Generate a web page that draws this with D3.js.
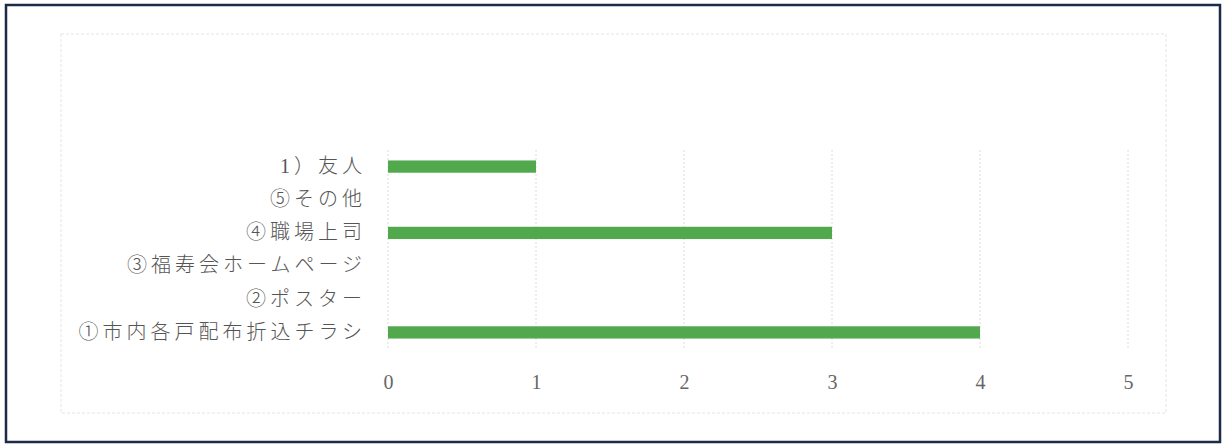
<!DOCTYPE html>
<html>
<head>
<meta charset="utf-8">
<script src="https://cdn.jsdelivr.net/npm/d3@7"></script>
<style>
  body { margin: 0; background: #fff; }
</style>
</head>
<body>
<div id="chart"></div>
<script>
// Data (top to bottom)
const categories = ["1）友人", "⑤その他", "④職場上司", "③福寿会ホームページ", "②ポスター", "①市内各戸配布折込チラシ"];
const counts = [1, 0, 3, 0, 0, 4];
const tickValues = [0, 1, 2, 3, 4, 5];

const W = 1225, H = 444;

const svg = d3.select("#chart")
    .append("svg")
    .attr("width", W)
    .attr("height", H);

// Outer frame
svg.append("rect")
    .attr("x", 6).attr("y", 5)
    .attr("width", 1214).attr("height", 437)
    .attr("fill", "none")
    .attr("stroke", "#1e2b48")
    .attr("stroke-width", 2.5);

// Chart area (faint dashed)
svg.append("rect")
    .attr("x", 61).attr("y", 34)
    .attr("width", 1105).attr("height", 379)
    .attr("fill", "none")
    .attr("stroke", "#e4e4e4")
    .attr("stroke-width", 1)
    .attr("stroke-dasharray", "3,2");

// Scales
const x = d3.scaleLinear()
    .domain([0, 5])
    .range([388, 1128]);

const y = d3.scaleBand()
    .domain(categories)
    .range([150, 349])
    .paddingInner(0.63)
    .paddingOuter(0.315);

// Vertical gridlines
svg.append("g")
    .selectAll("line")
    .data(tickValues)
    .join("line")
    .attr("x1", d => x(d)).attr("x2", d => x(d))
    .attr("y1", 150).attr("y2", 350)
    .attr("stroke", "#dcdcdc")
    .attr("stroke-width", 1)
    .attr("stroke-dasharray", "2,2");

// Bars
svg.append("g")
    .selectAll("rect")
    .data(categories)
    .join("rect")
    .attr("x", x(0))
    .attr("y", d => y(d))
    .attr("width", (d, i) => x(counts[i]) - x(0))
    .attr("height", y.bandwidth())
    .attr("fill", "#52a84c");

// Category labels
const yAxis = svg.append("g")
    .attr("transform", "translate(366,0)")
    .call(d3.axisLeft(y).tickSize(0).tickPadding(0));
yAxis.select(".domain").remove();
yAxis.selectAll("text")
    .attr("fill", "#555")
    .style("font-family", "'Liberation Serif', 'Noto Sans CJK JP', serif")
    .style("font-size", "20px")
    .style("font-weight", "300")
    .style("letter-spacing", "4px");

// Value axis labels
const xAxis = svg.append("g")
    .attr("transform", "translate(0,375)")
    .call(d3.axisBottom(x).tickValues(tickValues).tickFormat(d3.format("d")).tickSize(0).tickPadding(0));
xAxis.select(".domain").remove();
xAxis.selectAll("text")
    .attr("fill", "#666")
    .style("font-family", "'Liberation Serif', serif")
    .style("font-size", "20px");
</script>
</body>
</html>
